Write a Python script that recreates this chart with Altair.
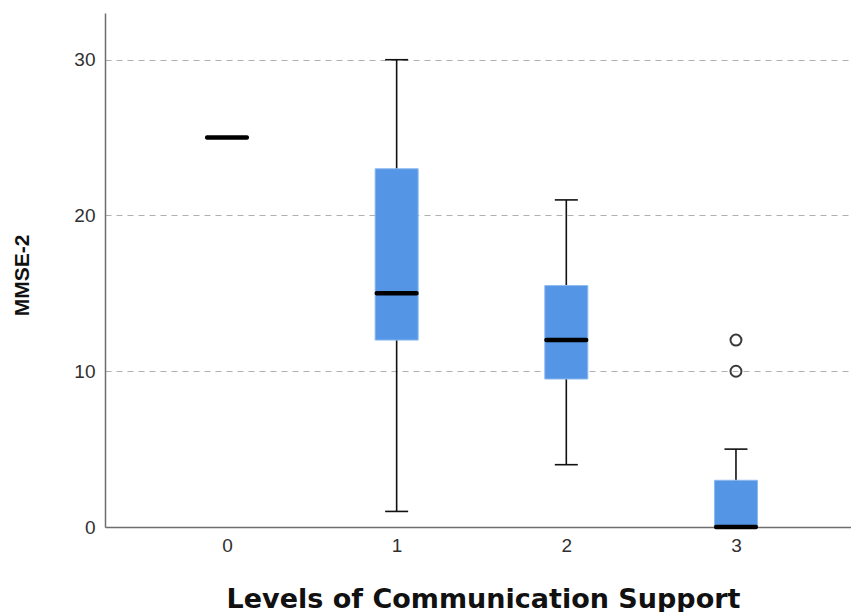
import altair as alt
import pandas as pd

# Five-number summaries of MMSE-2 per level of communication support
levels = [0, 1, 2, 3]
lower_whisker = [25, 1, 4, 0]
q1 = [25, 12, 9.5, 0]
median = [25, 15, 12, 0]
q3 = [25, 23, 15.5, 3]
upper_whisker = [25, 30, 21, 5]

# Outlying cases
outlier_levels = [3, 3]
outlier_values = [10, 12]

summary = pd.DataFrame({
    "level": levels,
    "lower": lower_whisker,
    "q1": q1,
    "median": median,
    "q3": q3,
    "upper": upper_whisker,
})
outliers = pd.DataFrame({"level": outlier_levels, "value": outlier_values})

# Box groups sit 1 unit apart; the extra room on each side mimics the SPSS frame
x_scale = alt.Scale(domain=[-0.719, 3.678], nice=False, zero=False, padding=0)
y_scale = alt.Scale(domain=[0, 33], nice=False, zero=True)

label_font = "Liberation Sans"

x_axis = alt.Axis(
    title="Levels of Communication Support",
    values=levels,
    format="d",
    grid=False,
    ticks=False,
    tickSize=0,
    labelFont=label_font,
    labelFontSize=19,
    labelColor="#303030",
    labelBaseline="top",
    labelPadding=9,
    domainColor="#6e6e6e",
    domainWidth=1.5,
    titleFont="DejaVu Sans",
    titleFontSize=27,
    titleFontWeight="bold",
    titleColor="#111111",
    titleX=378,
    titleY=80,
    titleAlign="center",
    titleBaseline="alphabetic",
)

y_axis = alt.Axis(
    title="MMSE-2",
    values=[0, 10, 20, 30],
    grid=True,
    gridDash=[6, 5],
    gridColor="#b0b0b0",
    gridWidth=1.2,
    ticks=False,
    tickSize=0,
    labelFont=label_font,
    labelFontSize=19,
    labelColor="#303030",
    labelPadding=10,
    domainColor="#6e6e6e",
    domainWidth=1.5,
    titleFont="Liberation Sans",
    titleFontSize=21,
    titleFontWeight="bold",
    titleColor="#111111",
    titleAngle=270,
    titleX=-83,
    titleY=262,
    titleAlign="center",
    titleBaseline="middle",
)

base = alt.Chart(summary)

whiskers = base.mark_rule(color="#111111", strokeWidth=1.6).encode(
    x=alt.X("level:Q", scale=x_scale, axis=x_axis),
    y=alt.Y("lower:Q", scale=y_scale, axis=y_axis),
    y2="upper:Q",
)

upper_caps = base.mark_tick(
    orient="horizontal", size=23, thickness=1.6, color="#111111", opacity=1
).encode(x="level:Q", y="upper:Q")

lower_caps = base.mark_tick(
    orient="horizontal", size=23, thickness=1.6, color="#111111", opacity=1
).encode(x="level:Q", y="lower:Q")

boxes = base.mark_bar(
    size=43, color="#5495e6", stroke="#8dbaf0", strokeWidth=1
).encode(x="level:Q", y="q1:Q", y2="q3:Q")

medians = base.mark_tick(
    orient="horizontal", size=44, thickness=4.5, color="#000000", opacity=1,
    cornerRadius=2
).encode(x="level:Q", y="median:Q")

outlier_points = alt.Chart(outliers).mark_point(
    shape="circle", size=120, filled=False, stroke="#3a3a3a", strokeWidth=2, opacity=1
).encode(x="level:Q", y="value:Q")

chart = (
    alt.layer(whiskers, upper_caps, lower_caps, boxes, medians, outlier_points)
    .properties(
        width=746,
        height=514,
        autosize=alt.AutoSizeParams(type="none"),
        padding={"left": 105, "top": 13, "right": 0, "bottom": 85},
        background="white",
    )
    .configure_view(stroke=None)
)

chart.save("out.html", embed_options={"renderer": "svg", "actions": False})
